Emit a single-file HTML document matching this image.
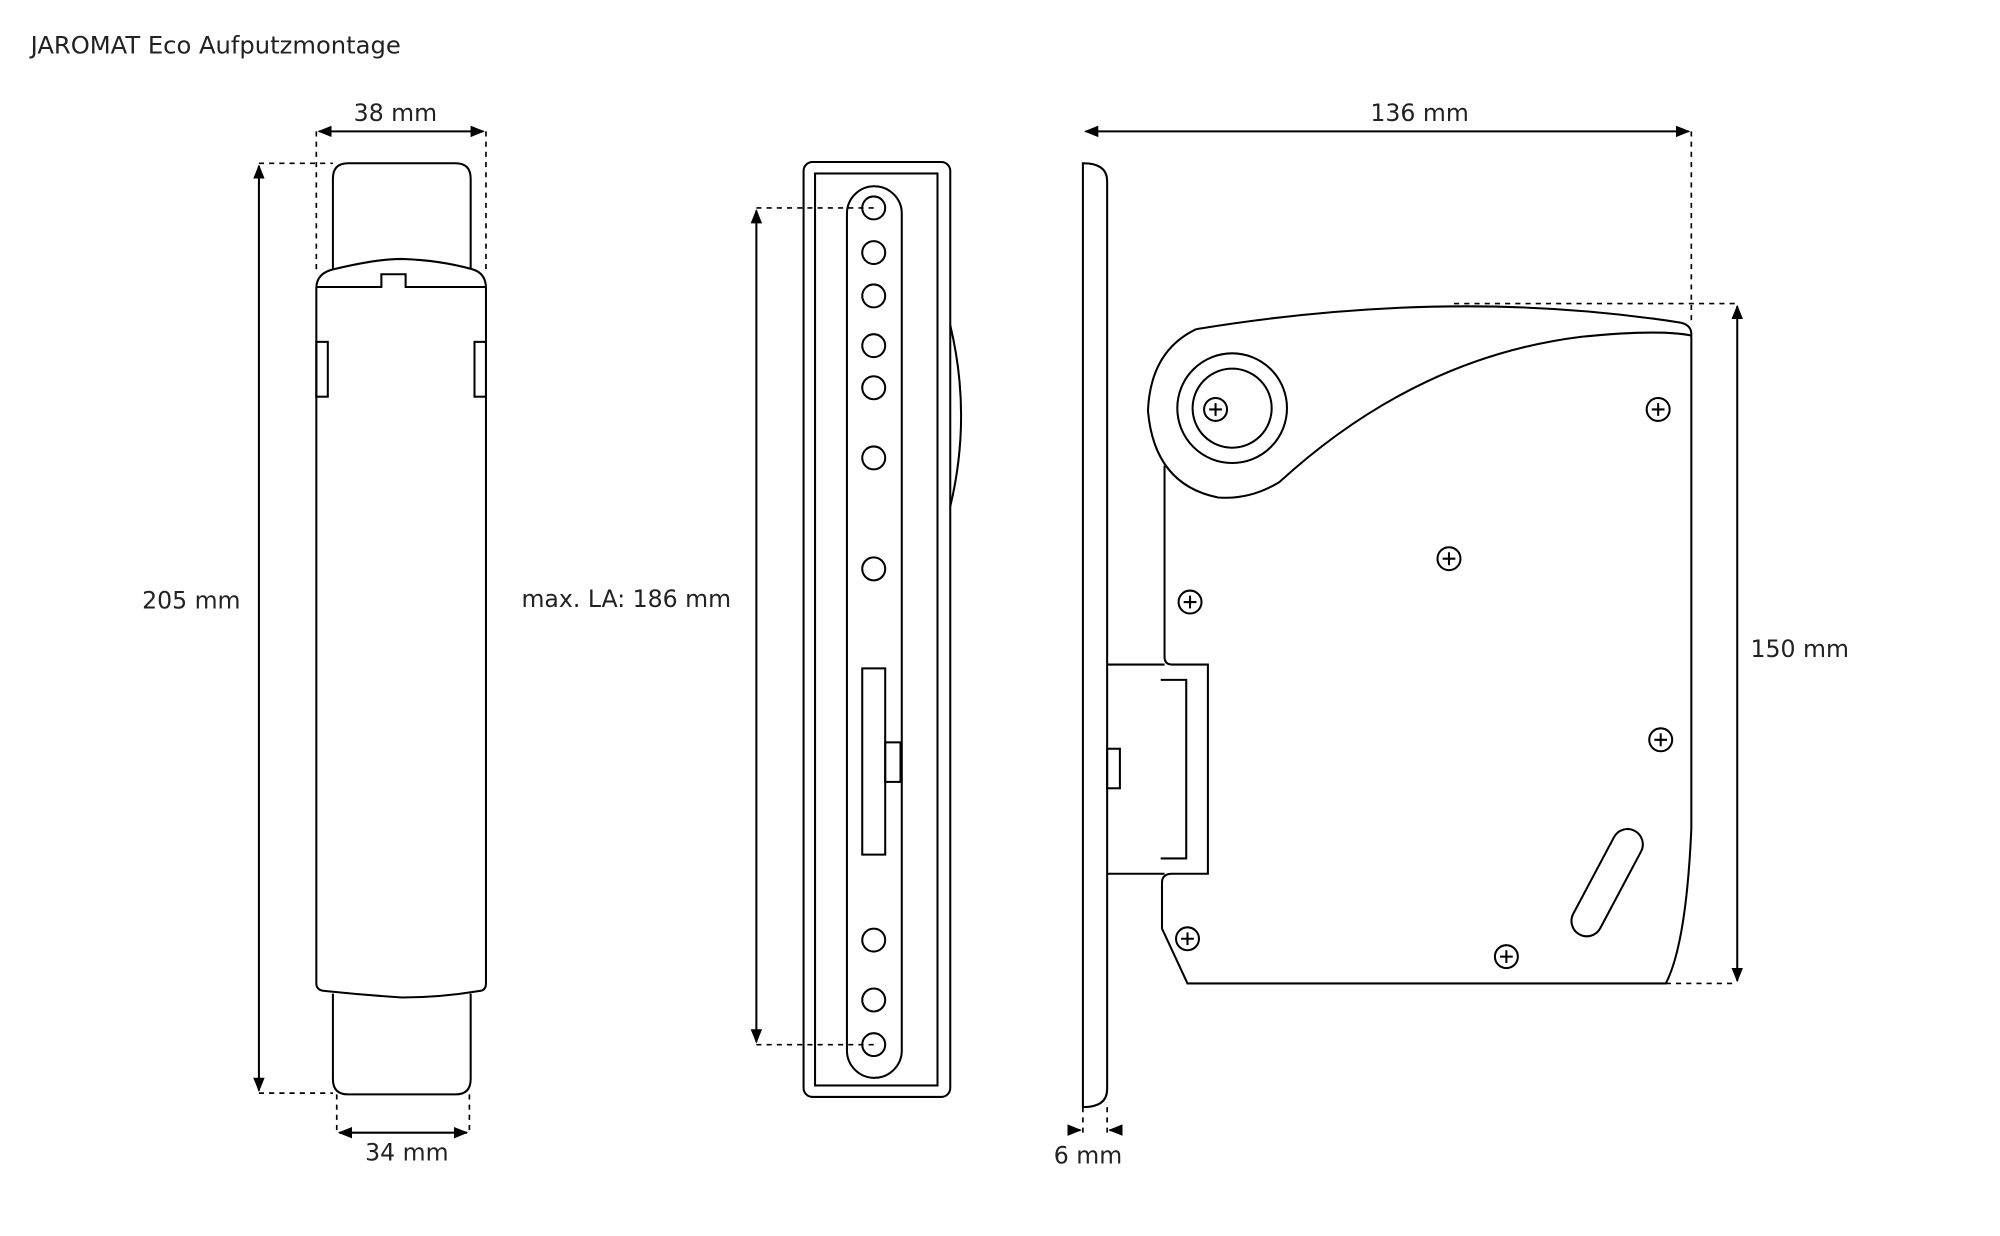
<!DOCTYPE html>
<html><head><meta charset="utf-8"><style>
html,body{margin:0;padding:0;background:#fff;}
svg{display:block;}
text{font-family:"DejaVu Sans","Liberation Sans",sans-serif;font-size:18.5px;fill:#222;}
</style></head><body>
<svg width="2000" height="1236" viewBox="0 0 1568 969" xmlns="http://www.w3.org/2000/svg">
<defs>
<marker id="a" viewBox="0 0 10 10" refX="9" refY="5" markerWidth="7" markerHeight="7" orient="auto-start-reverse"><path d="M0,1 L10,5 L0,9 z" fill="#000"/></marker>
<g id="s"><circle r="9" fill="#fff" stroke="#000" stroke-width="1.6"/><path d="M-5,0 H5 M0,-5 V5" stroke="#000" stroke-width="1.6"/></g>
</defs>
<g fill="none" stroke="#000" stroke-width="1.6">
<text x="24" y="42" stroke="none" style="font-size:19px">JAROMAT Eco Aufputzmontage</text>

<!-- Left view -->
<path d="M261,211 V140 Q261,128 273,128 H357 Q369,128 369,140 V211"/>
<path d="M248,771 V226 Q248,214 262,211 Q295,203 315,203 Q345,204 370,211 Q381,214 381,226 V771 Q381,777 375,777 Q345,782 315,782 Q285,780 256,777 Q248,777 248,771"/>
<path d="M248,225 H299 V215 H318 V225 H381"/>
<rect x="248" y="268" width="9" height="43"/>
<rect x="372" y="268" width="9" height="43"/>
<path d="M261,779 V846 Q261,858 273,858 H357 Q369,858 369,846 V779"/>
<g stroke-dasharray="4,4" stroke-width="1.3">
<path d="M248,103 V215 M381,103 V215 M203,128 H261 M203,857 H261 M264,858 V890 M368,858 V890"/>
</g>
<path d="M250,103 H379" marker-start="url(#a)" marker-end="url(#a)"/>
<path d="M203,130 V855" marker-start="url(#a)" marker-end="url(#a)"/>
<path d="M266,888 H366" marker-start="url(#a)" marker-end="url(#a)"/>
<text x="310" y="95" text-anchor="middle" stroke="none">38 mm</text>
<text x="150" y="477" text-anchor="middle" stroke="none">205 mm</text>
<text x="319" y="910" text-anchor="middle" stroke="none">34 mm</text>

<!-- Middle view -->
<rect x="630" y="127" width="115" height="733" rx="7"/>
<rect x="639" y="136" width="96" height="715"/>
<rect x="664" y="146" width="43" height="699" rx="21.5"/>
<g>
<circle cx="685" cy="163" r="9"/><circle cx="685" cy="198" r="9"/><circle cx="685" cy="232" r="9"/>
<circle cx="685" cy="271" r="9"/><circle cx="685" cy="304" r="9"/><circle cx="685" cy="359" r="9"/>
<circle cx="685" cy="446" r="9"/><circle cx="685" cy="737" r="9"/><circle cx="685" cy="784" r="9"/>
<circle cx="685" cy="819" r="9"/>
</g>
<rect x="676" y="524" width="18" height="146"/>
<rect x="694" y="582" width="12" height="31"/>
<path d="M745,255 Q762,326 745,397"/>
<g stroke-dasharray="4,4" stroke-width="1.3"><path d="M593,163 H685 M593,819 H685"/></g>
<path d="M593,165 V817" marker-start="url(#a)" marker-end="url(#a)"/>
<text x="491" y="476" text-anchor="middle" stroke="none">max. LA: 186 mm</text>

<!-- Right view -->
<path d="M849,128 Q868,128 868,142 V854 Q868,868 849,868 Z"/>
<path d="M913,365 V515 Q913,521 919,521 H947 V685 H919 Q911,685 911,692 V728 L931,771 H1306 Q1322,740 1326,650 V262 Q1326,255 1318,253"/>
<path d="M868,521 H913 M868,685 H913"/>
<path d="M910,533 H930 V673 H910"/>
<rect x="868" y="587" width="10" height="31"/>
<path d="M938,258 Q1140,225 1318,253"/>
<path d="M1326,263 Q1300,258 1240,264 Q1110,280 1003,378 Q980,392 955,390 Q905,380 900,322 Q902,275 938,258"/>
<circle cx="966" cy="320" r="43"/>
<circle cx="966" cy="320" r="31"/>
<use href="#s" x="953" y="321"/>
<use href="#s" x="1300" y="321"/>
<use href="#s" x="1136" y="438"/>
<use href="#s" x="933" y="472"/>
<use href="#s" x="1302" y="580"/>
<use href="#s" x="931" y="736"/>
<use href="#s" x="1181" y="750"/>
<rect x="-12" y="-46" width="24" height="92" rx="12" transform="translate(1260,692) rotate(28)"/>
<g stroke-dasharray="4,4" stroke-width="1.3">
<path d="M1326,103 V255 M1140,238 H1362 M1306,771 H1362 M849,868 V890 M868,868 V890"/>
</g>
<path d="M851,103 H1324" marker-start="url(#a)" marker-end="url(#a)"/>
<path d="M1362,240 V769" marker-start="url(#a)" marker-end="url(#a)"/>
<path d="M841,886 H847" marker-end="url(#a)"/>
<path d="M876,886 H870" marker-end="url(#a)"/>
<text x="1113" y="95" text-anchor="middle" stroke="none">136 mm</text>
<text x="1411" y="515" text-anchor="middle" stroke="none">150 mm</text>
<text x="853" y="912" text-anchor="middle" stroke="none">6 mm</text>
</g>
</svg>
</body></html>
